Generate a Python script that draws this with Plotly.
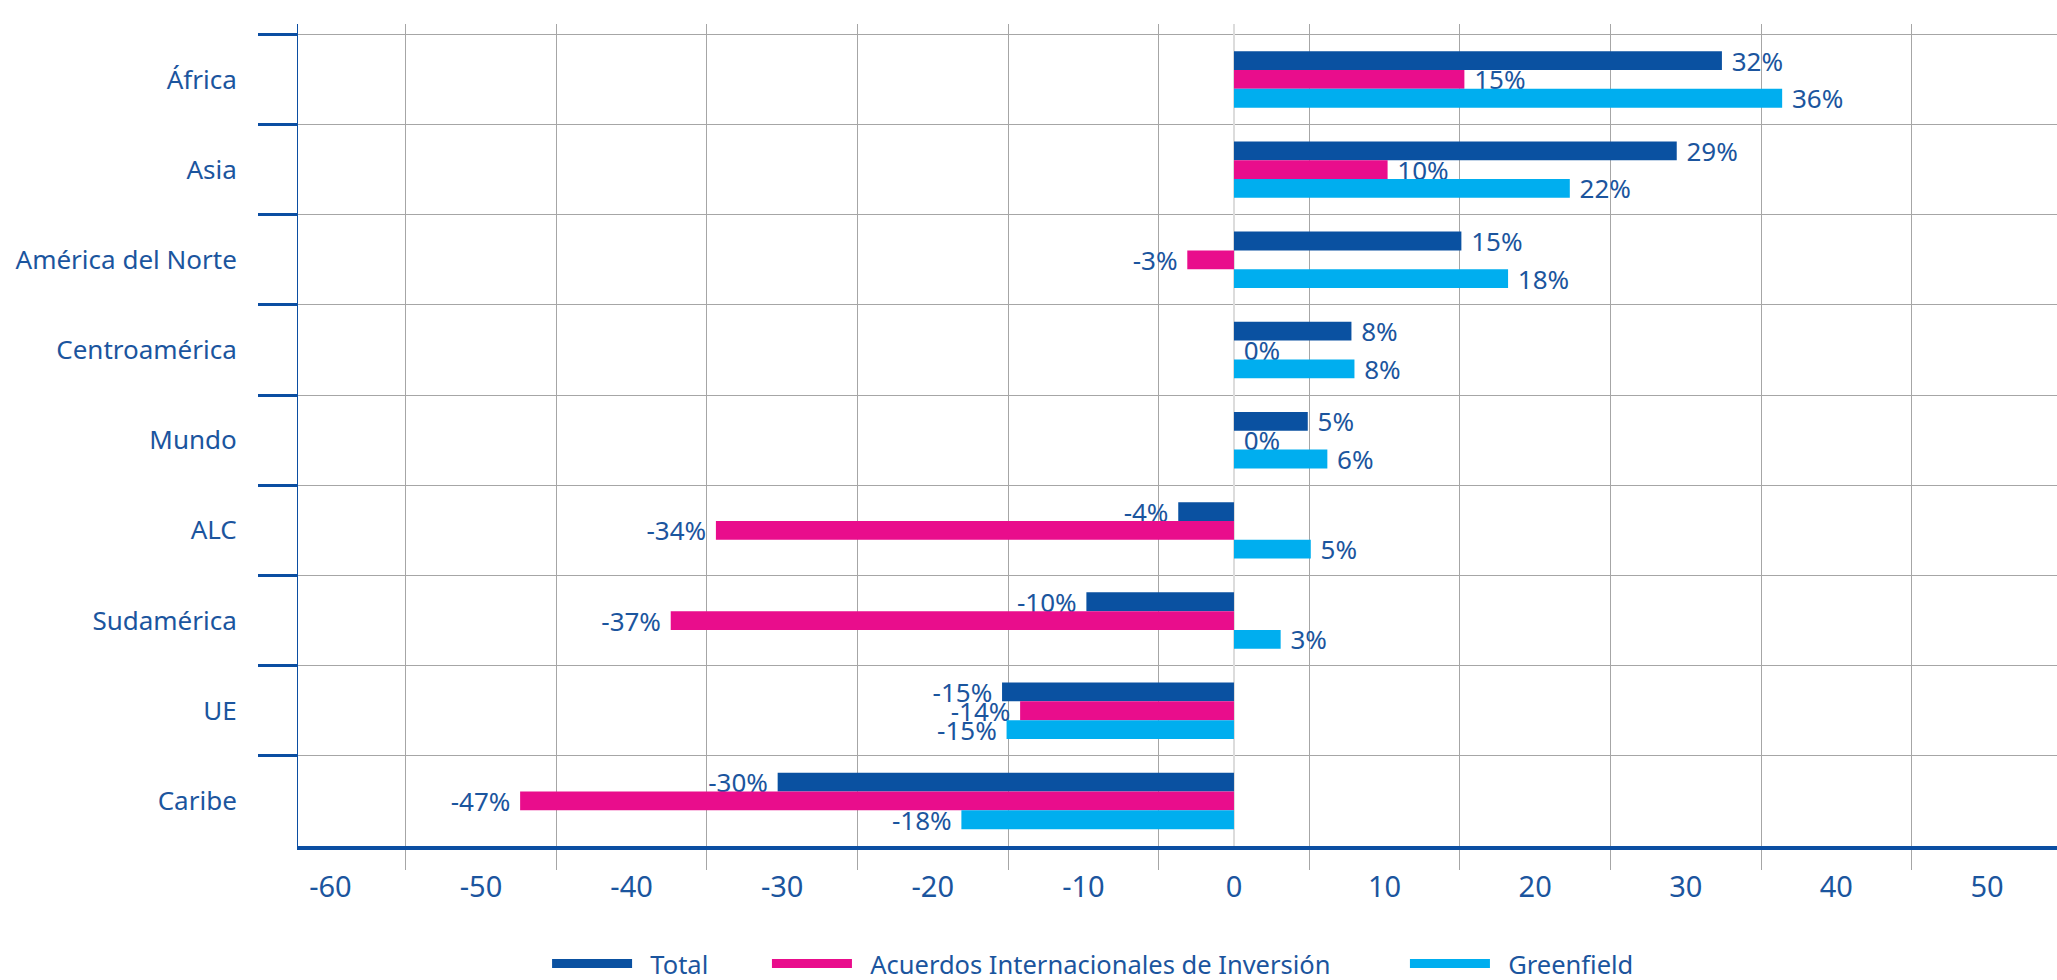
import plotly.graph_objects as go

# data (percent change)
regions = ["África", "Asia", "América del Norte", "Centroamérica", "Mundo",
           "ALC", "Sudamérica", "UE", "Caribe"]
total = [32.4, 29.4, 15.1, 7.8, 4.9, -3.7, -9.8, -15.4, -30.3]
acuerdos = [15.3, 10.2, -3.1, 0, 0, -34.4, -37.4, -14.2, -47.4]
greenfield = [36.4, 22.3, 18.2, 8.0, 6.2, 5.1, 3.1, -15.1, -18.1]
series_names = ["Total", "Acuerdos Internacionales de Inversión", "Greenfield"]
x_ticks = [-60, -50, -40, -30, -20, -10, 0, 10, 20, 30, 40, 50]
grid_vals = [-55, -45, -35, -25, -15, -5, 5, 15, 25, 35, 45]

COLORS = ["#0A51A1", "#E90D8C", "#00AEEF"]
TXT = "#1B559E"
AXIS = "#0B4EA2"
FONT = "Noto Sans"
# one legend per series so each entry sits where the original has it
LEG_X = [0.1416, 0.2666, 0.6293]


def labels(vals):
    # a bit of breathing room between bar end and label
    return [f" {v:.0f}%" if v >= 0 else f"{v:.0f}% " for v in vals]


fig = go.Figure()
for i, (name, vals, col) in enumerate(zip(series_names, [total, acuerdos, greenfield], COLORS)):
    fig.add_trace(go.Bar(
        y=regions, x=vals, orientation="h", name=name,
        marker_color=col, marker_line_width=0,
        text=labels(vals), textposition="outside", constraintext="none",
        cliponaxis=False, textfont=dict(color=TXT, size=26, family=FONT),
        showlegend=False, hoverinfo="x+y",
    ))
    leg = "legend" if i == 0 else f"legend{i + 1}"
    # legend entries drawn as thick short lines like the original
    fig.add_trace(go.Scatter(
        x=[None], y=[None], mode="lines", name="\u00a0\u00a0" + name, legend=leg,
        line=dict(color=col, width=9), hoverinfo="skip",
    ))

leg_style = dict(orientation="h", y=-0.1436, yanchor="middle", xanchor="left",
                 font=dict(size=25.5, color=TXT), itemwidth=80, bgcolor="rgba(0,0,0,0)")

fig.update_layout(
    width=2057, height=980,
    paper_bgcolor="white", plot_bgcolor="white",
    margin=dict(l=298, r=0, t=24, b=134, autoexpand=False),
    barmode="group", bargap=0.374, bargroupgap=0,
    font=dict(family=FONT, color=TXT, size=26),
    legend=dict(x=LEG_X[0], **leg_style),
    legend2=dict(x=LEG_X[1], **leg_style),
    legend3=dict(x=LEG_X[2], **leg_style),
    xaxis=dict(
        range=[-62.15, 54.65], tickvals=x_ticks, ticktext=[str(v) for v in x_ticks],
        ticks="", showgrid=False,
        tickfont=dict(size=29, color=TXT), ticklabelstandoff=12,
        zeroline=True, zerolinecolor="#DCDCDC", zerolinewidth=1.5,
        showline=True, linecolor=AXIS, linewidth=4,
        minor=dict(tickvals=grid_vals, showgrid=True, gridcolor="#A6A6A6", gridwidth=1,
                   ticks="outside", ticklen=20, tickcolor="#A6A6A6", tickwidth=1),
    ),
    yaxis=dict(
        type="category", categoryorder="array", categoryarray=regions,
        range=[8.5, -0.615], tickson="boundaries",
        ticks="outside", ticklen=39, tickwidth=3, tickcolor=AXIS,
        showgrid=True, gridcolor="#A6A6A6", gridwidth=1,
        showline=True, linecolor=AXIS, linewidth=1,
        tickfont=dict(size=26, color=TXT), ticklabelstandoff=55,
    ),
)

# drop the default body margin so the figure fills the window exactly
fig.write_html("out.html", config={"displayModeBar": False},
               post_script="document.body.style.margin='0';document.body.style.overflow='hidden';")
